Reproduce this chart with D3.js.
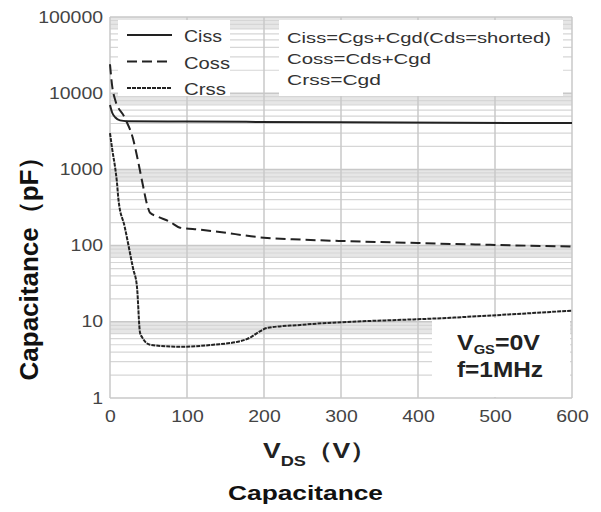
<!DOCTYPE html>
<html>
<head>
<meta charset="utf-8">
<script src="https://cdn.jsdelivr.net/npm/d3@7"></script>
<style>
  body { margin: 0; background: #fff; }
  text { font-family: "Liberation Sans", Arial, sans-serif; }
</style>
</head>
<body>
<svg id="chart" width="601" height="512"></svg>
<script>
// values (V, pF)
const cissV = [0, 3, 7, 13, 22, 100, 300, 600]
const cissC = [7000, 5500, 4800, 4400, 4300, 4250, 4150, 4050]

const cossV = [0, 3, 6.5, 19, 30, 36, 43, 48, 52, 62, 78, 91, 117, 140, 200, 247, 300, 400, 500, 600]
const cossC = [24000, 12000, 8300, 4800, 2500, 1350, 600, 350, 270, 240, 205, 172, 162, 152, 127, 120, 115, 108, 102, 97]

const crssV = [0, 3, 7, 9, 11, 19, 30, 35, 39, 42, 52, 91, 134, 170, 182, 191, 204, 247, 442, 600]
const crssC = [3000, 1800, 1000, 680, 400, 178, 50, 29, 7.2, 6.2, 5, 4.7, 5, 5.6, 6.2, 7.1, 8.3, 9.1, 11.3, 14]

const xTicks = [0, 100, 200, 300, 400, 500, 600]
const yTicks = [1, 10, 100, 1000, 10000, 100000]
const legendNames = ['Ciss', 'Coss', 'Crss']
const noteLines = ['Ciss=Cgs+Cgd(Cds=shorted)', 'Coss=Cds+Cgd', 'Crss=Cgd']

const svg = d3.select('#chart')
const x = d3.scaleLinear().domain([0, 600]).range([110, 572])
const y = d3.scaleLog().domain([1, 100000]).range([398, 17])

// the scanned picture is wider than tall, so text is squeezed out sideways
let stretch = function(sel, w) {
    return sel.attr('textLength', w).attr('lengthAdjust', 'spacingAndGlyphs')
}

// grey bands just under every decade line
const grid = svg.append('g').attr('class', 'grid')
yTicks.slice(1).forEach(function(d) {
    grid.append('rect')
        .attr('x', x(0)).attr('width', x(600) - x(0))
        .attr('y', y(d)).attr('height', y(d * 0.7) - y(d))
        .attr('fill', '#e6e6e6')
})
let minors = []
yTicks.slice(0, -1).forEach(function(d) {
    for (let k = 2; k <= 9; k++) minors.push(d * k)
})
grid.selectAll('line.minor').data(minors).enter().append('line')
    .attr('class', 'minor')
    .attr('x1', x(0)).attr('x2', x(600))
    .attr('y1', d => y(d)).attr('y2', d => y(d))
    .attr('stroke', '#d6d6d6').attr('stroke-width', 1.2)
grid.selectAll('line.major').data(yTicks).enter().append('line')
    .attr('class', 'major')
    .attr('x1', x(0)).attr('x2', x(600))
    .attr('y1', d => y(d)).attr('y2', d => y(d))
    .attr('stroke', '#c8c8c8').attr('stroke-width', 1.5)
grid.selectAll('line.vert').data(xTicks).enter().append('line')
    .attr('class', 'vert')
    .attr('x1', d => x(d)).attr('x2', d => x(d))
    .attr('y1', y(1)).attr('y2', y(100000))
    .attr('stroke', '#c8c8c8').attr('stroke-width', 1.5)

// white boxes that hide the grid behind the notes
svg.append('rect').attr('x', 118).attr('y', 20).attr('width', 112).attr('height', 76).attr('fill', '#fff')
svg.append('rect').attr('x', 279).attr('y', 20).attr('width', 284).attr('height', 76).attr('fill', '#fff')
svg.append('rect').attr('x', 432).attr('y', 318).attr('width', 138).attr('height', 79).attr('fill', '#fff')

// axis tick labels
const xAxis = svg.append('g')
    .attr('transform', 'translate(0,' + y(1) + ')')
    .call(d3.axisBottom(x).tickValues(xTicks).tickSize(0).tickPadding(13))
const yAxis = svg.append('g')
    .attr('transform', 'translate(' + x(0) + ',0)')
    .call(d3.axisLeft(y).tickValues(yTicks).tickFormat(d3.format('d')).tickSize(0).tickPadding(7))
;[xAxis, yAxis].forEach(function(a) {
    a.select('.domain').remove()
    a.selectAll('text').attr('font-size', 16).attr('fill', '#444')
        .attr('font-family', '"Liberation Sans", Arial, sans-serif')
        .attr('textLength', d => String(d).length * 10.8)
        .attr('lengthAdjust', 'spacingAndGlyphs')
})

// curves
const series = [
    {v: cissV, c: cissC, dash: null},
    {v: cossV, c: cossC, dash: '10,5'},
    {v: crssV, c: crssC, dash: '4,1'}
]
const line = d3.line().x(d => x(d[0])).y(d => y(d[1])).curve(d3.curveMonotoneX)
series.forEach(function(s) {
    svg.append('path')
        .datum(d3.zip(s.v, s.c))
        .attr('d', line)
        .attr('fill', 'none')
        .attr('stroke', '#222')
        .attr('stroke-width', 2)
        .attr('stroke-dasharray', s.dash)
})

// legend
const legW = [38, 46, 42]
const leg = svg.append('g').attr('class', 'legend')
legendNames.forEach(function(n, i) {
    let ly = 35 + i * 26.5
    leg.append('line')
        .attr('x1', 127).attr('x2', 172).attr('y1', ly).attr('y2', ly)
        .attr('stroke', '#222').attr('stroke-width', 2)
        .attr('stroke-dasharray', series[i].dash)
    stretch(leg.append('text').attr('x', 184).attr('y', ly + 7)
        .attr('font-size', 17).attr('fill', '#333').text(n), legW[i])
})
const noteW = [264, 144, 94]
noteLines.forEach(function(t, i) {
    stretch(svg.append('text').attr('x', 287).attr('y', 43 + i * 21)
        .attr('font-size', 15).attr('fill', '#333').text(t), noteW[i])
})

// test conditions
const cond = svg.append('text').attr('x', 457).attr('y', 350)
    .attr('font-size', 22).attr('font-weight', 'bold').attr('fill', '#222')
cond.append('tspan').text('V')
cond.append('tspan').attr('font-size', 13).attr('dy', 4).text('GS')
cond.append('tspan').attr('dy', -4).text('=0V')
stretch(cond, 83)
stretch(svg.append('text').attr('x', 457).attr('y', 377)
    .attr('font-size', 22).attr('font-weight', 'bold').attr('fill', '#222')
    .text('f=1MHz'), 86)

// axis titles
const xt = svg.append('text').attr('x', 263).attr('y', 458)
    .attr('font-size', 22).attr('font-weight', 'bold').attr('fill', '#222')
xt.append('tspan').text('V')
xt.append('tspan').attr('font-size', 15).attr('dy', 8).text('DS')
xt.append('tspan').attr('dy', -8).text('（V）')
stretch(xt, 114)

svg.append('text')
    .attr('transform', 'translate(38,262) rotate(-90)')
    .attr('text-anchor', 'middle')
    .attr('font-size', 26).attr('font-weight', 'bold').attr('fill', '#111')
    .text('Capacitance（pF）')

stretch(svg.append('text').attr('x', 228).attr('y', 500)
    .attr('font-size', 21).attr('font-weight', 'bold').attr('fill', '#111')
    .text('Capacitance'), 155)
</script>
</body>
</html>
